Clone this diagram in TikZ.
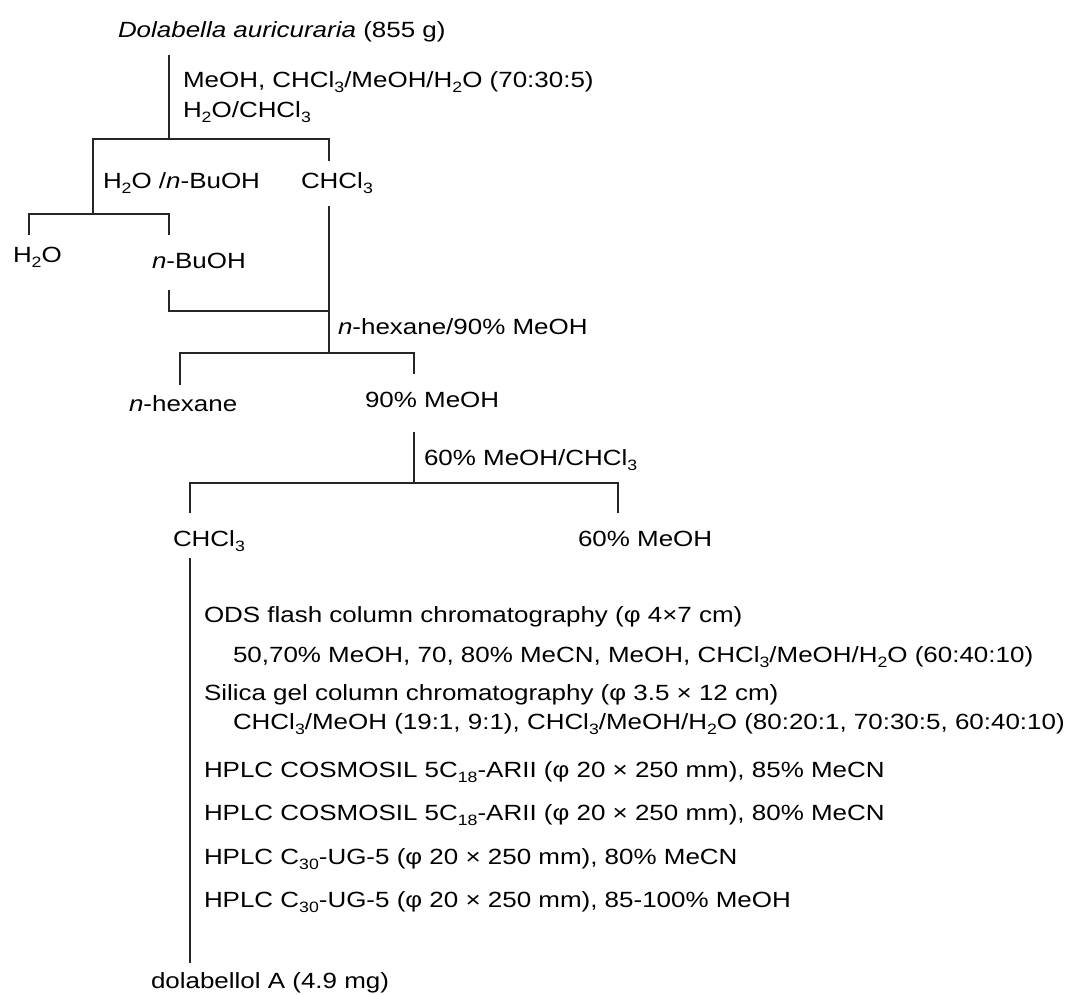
\documentclass[tikz,border=0pt]{standalone}
\usepackage{fontspec}
\setmainfont{Liberation Sans}[FakeStretch=1.18]
\newcommand{\dn}[1]{\raisebox{-5pt}{\fontsize{15}{15}\selectfont #1}}
\begin{document}
\begin{tikzpicture}[x=1pt,y=-1pt,
  lbl/.style={anchor=base west,inner sep=0pt,outer sep=0pt,font=\fontsize{22}{26}\selectfont},
  ln/.style={line width=1.4pt,black!85}]
\useasboundingbox (0,0) rectangle (1079,994);
% texts
\node[lbl] (title) at (118,37) {\textit{Dolabella auricuraria} (855 g)};
\node[lbl] (s1a) at (183,87) {MeOH, CHCl\dn{3}/MeOH/H\dn{2}O (70:30:5)};
\node[lbl] (s1b) at (183,117) {H\dn{2}O/CHCl\dn{3}};
\node[lbl] (s2) at (103,188) {H\dn{2}O /\textit{n}-BuOH};
\node[lbl] (chcl3a) at (301,188) {CHCl\dn{3}};
\node[lbl] (h2o) at (13,262) {H\dn{2}O};
\node[lbl] (buoh) at (152,268) {\textit{n}-BuOH};
\node[lbl] (s3) at (338,334) {\textit{n}-hexane/90\% MeOH};
\node[lbl] (hex) at (129,411) {\textit{n}-hexane};
\node[lbl] (meoh90) at (365,407) {90\% MeOH};
\node[lbl] (s4) at (424,465) {60\% MeOH/CHCl\dn{3}};
\node[lbl] (chcl3b) at (173,546) {CHCl\dn{3}};
\node[lbl] (meoh60) at (578,546) {60\% MeOH};
\node[lbl] (c1) at (204,622) {ODS flash column chromatography (φ 4×7 cm)};
\node[lbl] (c1s) at (233,662) {50,70\% MeOH, 70, 80\% MeCN, MeOH, CHCl\dn{3}/MeOH/H\dn{2}O (60:40:10)};
\node[lbl] (c2) at (204,700) {Silica gel column chromatography (φ 3.5 × 12 cm)};
\node[lbl] (c2s) at (233,729) {CHCl\dn{3}/MeOH (19:1, 9:1), CHCl\dn{3}/MeOH/H\dn{2}O (80:20:1, 70:30:5, 60:40:10)};
\node[lbl] (c3) at (204,777) {HPLC COSMOSIL 5C\dn{18}-ARII (φ 20 × 250 mm), 85\% MeCN};
\node[lbl] (c4) at (204,820) {HPLC COSMOSIL 5C\dn{18}-ARII (φ 20 × 250 mm), 80\% MeCN};
\node[lbl] (c5) at (204,864) {HPLC C\dn{30}-UG-5 (φ 20 × 250 mm), 80\% MeCN};
\node[lbl] (c6) at (204,907) {HPLC C\dn{30}-UG-5 (φ 20 × 250 mm), 85-100\% MeOH};
\node[lbl] (prod) at (151,988) {dolabellol A (4.9 mg)};
% junction coordinates
\coordinate (a0) at (169,55);
\coordinate (a1) at (169,139);
\coordinate (aL) at (93,139);
\coordinate (aR) at (329,139);
\coordinate (aRd) at (329,161);
\coordinate (bL) at (93,214);
\coordinate (b1) at (29,214);
\coordinate (b1d) at (29,235);
\coordinate (b2) at (169,214);
\coordinate (b2d) at (169,235);
\coordinate (cU) at (329,206);
\coordinate (cJ) at (329,311);
\coordinate (cB) at (169,290);
\coordinate (cBj) at (169,311);
\coordinate (dJ) at (329,353);
\coordinate (dL) at (180,353);
\coordinate (dLd) at (180,385);
\coordinate (dR) at (414,353);
\coordinate (dRd) at (414,374);
\coordinate (e0) at (414,432);
\coordinate (e1) at (414,483);
\coordinate (eL) at (190,483);
\coordinate (eLd) at (190,513);
\coordinate (eR) at (618,483);
\coordinate (eRd) at (618,513);
\coordinate (f0) at (190,558);
\coordinate (f1) at (190,963);
% connectors
\draw[ln] (a0) -- (a1);
\draw[ln] (aRd) -- (aR) -- (aL) -- (bL);
\draw[ln] (b1d) -- (b1) -- (b2) -- (b2d);
\draw[ln] (cU) -- (dJ);
\draw[ln] (cB) -- (cBj) -- (cJ);
\draw[ln] (dLd) -- (dL) -- (dR) -- (dRd);
\draw[ln] (e0) -- (e1);
\draw[ln] (eLd) -- (eL) -- (eR) -- (eRd);
\draw[ln] (f0) -- (f1);
\end{tikzpicture}
\end{document}
